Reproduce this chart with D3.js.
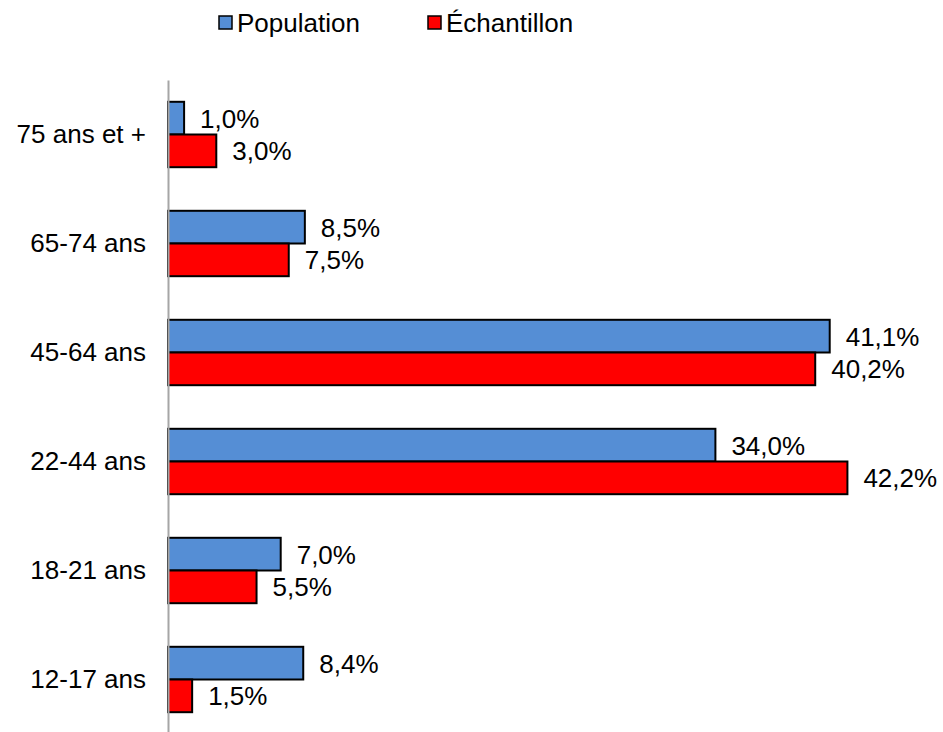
<!DOCTYPE html>
<html lang="fr">
<head>
	<meta charset="UTF-8">
	<title>Population / Échantillon</title>
	<style>
		body { margin: 0; background: #fff; }
		text { font-family: Arial, "Liberation Sans", sans-serif; fill: #000; }
	</style>
</head>
<body>
	<script src="https://d3js.org/d3.v7.min.js"></script>
	<script type="text/javascript">
		var width = 943;
		var height = 732;
		var fontSize = 26;

		var categories = ["75 ans et +", "65-74 ans", "45-64 ans", "22-44 ans", "18-21 ans", "12-17 ans"];
		var series = ["Population", "Échantillon"];
		var colors = ["#558ed5", "#ff0000"];
		var population = [1.0, 8.5, 41.1, 34.0, 7.0, 8.4];
		var echantillon = [3.0, 7.5, 40.2, 42.2, 5.5, 1.5];

		var svg = d3.select("body").append("svg").attr("width", width).attr("height", height);

		var x0 = 168;
		var XScale = d3.scaleLinear().domain([0, 45]).range([x0, x0 + 45 * 16.1]);
		var YScale = d3.scaleBand().domain(categories).range([80, 734]).paddingInner(0.4).paddingOuter(0.2);
		var Sub = d3.scaleBand().domain(series).range([0, YScale.bandwidth()]);

		var rows = categories.map(function(c, i){
			return { cat: c, vals: [population[i], echantillon[i]] };
		});

		var fmt = function(v){ return v.toFixed(1).replace(".", ",") + "%"; };

		var groups = svg.selectAll("g.cat")
			.data(rows)
			.enter()
			.append("g")
			.attr("class", "cat")
			.attr("transform", function(d){ return "translate(0," + YScale(d.cat) + ")"; });

		groups.selectAll("rect")
			.data(function(d){ return d.vals.map(function(v, j){ return { s: series[j], v: v, j: j }; }); })
			.enter()
			.append("rect")
			.attr("x", XScale(0))
			.attr("y", function(d){ return Sub(d.s); })
			.attr("width", function(d){ return XScale(d.v) - XScale(0); })
			.attr("height", Sub.bandwidth())
			.attr("fill", function(d){ return colors[d.j]; })
			.attr("stroke", "#000")
			.attr("stroke-width", 2);

		// étiquettes de valeurs
		groups.selectAll("text.val")
			.data(function(d){ return d.vals.map(function(v, j){ return { s: series[j], v: v }; }); })
			.enter()
			.append("text")
			.attr("class", "val")
			.attr("x", function(d){ return XScale(d.v) + 16; })
			.attr("y", function(d){ return Sub(d.s) + Sub.bandwidth() / 2; })
			.attr("dy", "0.36em")
			.attr("font-size", fontSize)
			.text(function(d){ return fmt(d.v); });

		// axe vertical
		var YAxis = d3.axisLeft(YScale).tickSize(0).tickPadding(22);
		var ax = svg.append("g")
			.attr("transform", "translate(" + x0 + ",0)")
			.call(YAxis);
		ax.select(".domain").attr("stroke", "#a6a6a6").attr("stroke-width", 2);
		ax.selectAll("text").attr("font-size", fontSize).attr("font-family", "Arial, 'Liberation Sans', sans-serif");

		// légende
		var legendX = [219, 428];
		var legend = svg.selectAll("g.legend")
			.data(series)
			.enter()
			.append("g")
			.attr("class", "legend")
			.attr("transform", function(d, i){ return "translate(" + legendX[i] + ",16)"; });
		legend.append("rect")
			.attr("width", 13).attr("height", 13)
			.attr("fill", function(d, i){ return colors[i]; })
			.attr("stroke", "#000").attr("stroke-width", 1.5);
		legend.append("text")
			.attr("x", 18).attr("y", 6.5).attr("dy", "0.36em")
			.attr("font-size", fontSize)
			.text(function(d){ return d; });
	</script>
</body>
</html>
